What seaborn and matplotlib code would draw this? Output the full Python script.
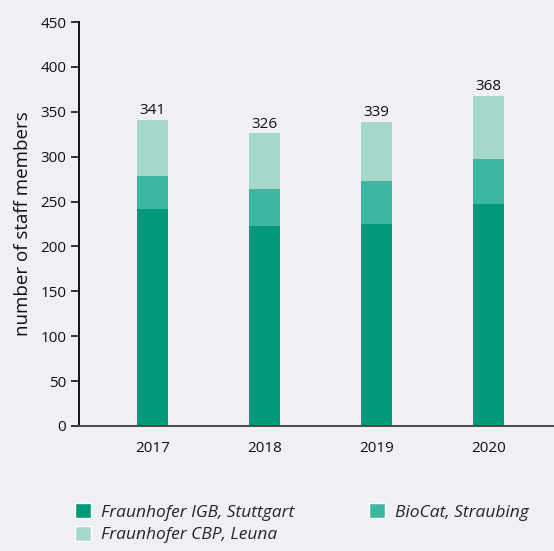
import matplotlib
matplotlib.use("Agg")
import numpy as np
import pandas as pd
import seaborn as sns
import matplotlib.pyplot as plt
from matplotlib.patches import Patch

# data
years = ["2017", "2018", "2019", "2020"]
igb = [242, 223, 225, 247]
biocat = [37, 41, 48, 50]
cbp = [62, 62, 66, 71]

names = ["Fraunhofer IGB, Stuttgart", "BioCat, Straubing", "Fraunhofer CBP, Leuna"]
colors = ["#02987A", "#3DB7A1", "#A7D6CA"]
bg = "#EFF0F5"
txt = "#111111"


def main():
    sns.set_style("white")
    plt.rcParams["font.family"] = ["Open Sans", "DejaVu Sans"]

    df = pd.DataFrame({"year": years, "igb": igb, "biocat": biocat, "cbp": cbp})
    df["lvl1"] = df["igb"]
    df["lvl2"] = df["igb"] + df["biocat"]
    df["total"] = df["lvl2"] + df["cbp"]

    fig = plt.figure(figsize=(5.54, 5.51), dpi=100, facecolor=bg)
    ax = fig.add_axes([0.142, 0.2269, 0.858, 0.7331])
    ax.set_facecolor(bg)

    # stacked by overdrawing cumulative sums, tallest first
    for col, c in zip(["total", "lvl2", "lvl1"], colors[::-1]):
        sns.barplot(data=df, x="year", y=col, color=c, width=0.277,
                    saturation=1, linewidth=0, ax=ax)

    ax.bar_label(ax.containers[0], labels=[str(t) for t in df["total"]],
                 padding=1, fontsize=11, color=txt)

    ax.set_xlim(-0.659, 3.585)
    ax.set_ylim(0, 450)
    ax.set_yticks(range(0, 451, 50))
    ax.set_xlabel("")
    ax.set_ylabel("number of staff members", fontsize=13.5, color=txt,
                  labelpad=6)

    for s in ["top", "right"]:
        ax.spines[s].set_visible(False)
    ax.spines["left"].set_color(txt)
    ax.spines["left"].set_linewidth(1.4)
    ax.spines["bottom"].set_color("#4a4a4a")
    ax.spines["bottom"].set_linewidth(1.4)

    ax.tick_params(axis="y", left=True, length=6, width=1.2, color=txt,
                   labelsize=11, labelcolor=txt, pad=3)
    ax.tick_params(axis="x", bottom=False, labelsize=11, labelcolor=txt,
                   pad=7)

    # column-wise fill: IGB, CBP in first column, BioCat in second
    handles = [Patch(facecolor=colors[0]), Patch(facecolor=colors[2]),
               Patch(facecolor=colors[1])]
    labels = [names[0], names[2], names[1]]
    fig.legend(handles, labels, ncol=2, loc="upper left",
               bbox_to_anchor=(0.135, 0.087), bbox_transform=fig.transFigure,
               frameon=False, prop={"style": "italic", "size": 12.5},
               handlelength=0.95, handleheight=0.95, handletextpad=0.55,
               columnspacing=4.3, labelspacing=0.3, borderaxespad=0,
               borderpad=0)

    fig.savefig("out.png", dpi=100, facecolor=bg)


if __name__ == "__main__":
    main()
